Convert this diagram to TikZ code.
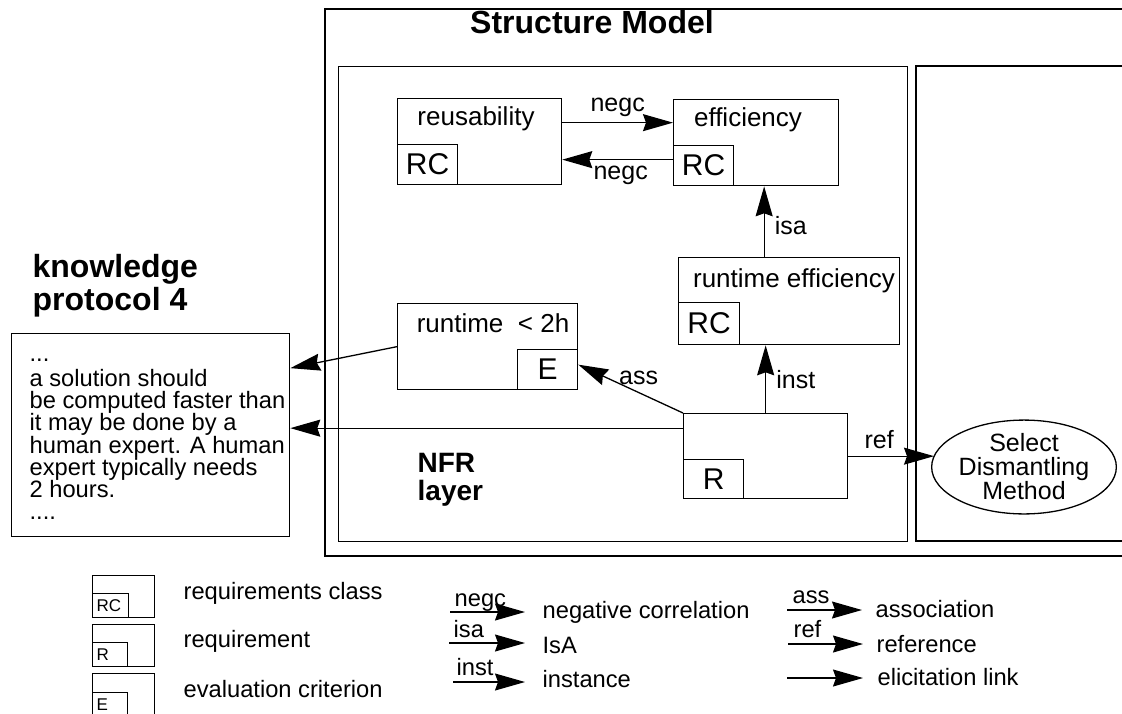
\documentclass[tikz,border=0pt]{standalone}
\usepackage{fontspec}
\setmainfont{Liberation Sans}
\usepackage{tikz}
\usetikzlibrary{calc}
\usetikzlibrary{arrows.meta}
\usetikzlibrary{shapes.geometric}
\newcommand{\fsz}[2]{\fontsize{#1}{#2}\selectfont}

\begin{document}
\begin{tikzpicture}[x=1pt,y=-1pt,line width=1.3pt,
  box/.style={draw,inner sep=0pt,anchor=north west},
  subbox/.style={draw,inner sep=0pt,font=\fsz{30}{30}},
  lgsub/.style={draw,inner sep=0pt,inner xsep=4pt,anchor=south west,align=left,font=\fsz{17}{17}},
  lbl/.style={inner sep=0pt,font=\fsz{26}{26}},
  lgtxt/.style={inner sep=0pt,anchor=base west,font=\fsz{23.7}{23.7}},
  elabel/.style={inner sep=3pt,font=\fsz{25}{25}},
  arr/.style={-{Stealth[length=30pt,width=17pt,inset=3pt]}}]

  \useasboundingbox (0,0) rectangle (1122,713); %画像の範囲

  % Structure Model
  \draw (1122,9) -- (325,9) -- (325,556) -- (1122,556); %外枠
  \node[font=\bfseries\fsz{32}{32},anchor=base,inner sep=0pt] (smTitle) at (592,33) {Structure Model}; %見出し
  \node[box,minimum width=569,minimum height=475] (nfr) at (338,66) {}; %NFR層
  \draw (1122,66) -- (916,66) -- (916,541) -- (1122,541); %右の層
  \node[anchor=north west,inner sep=0pt,align=left,font=\bfseries\fsz{28}{27.5}] (nfrT) at (417,453) {NFR\\layer}; %層の名前

  % reusability
  \node[box,minimum width=164,minimum height=86] (reus) at (397,98) {}; %要求クラス
  \node[subbox,anchor=south west,minimum width=60,minimum height=40] (reusRC) at (reus.south west) {RC};
  \node[lbl] (reusT) at (476,119) {reusability};

  % efficiency
  \node[box,minimum width=165,minimum height=86] (eff) at (673,99) {}; %要求クラス
  \node[subbox,anchor=south west,minimum width=60,minimum height=40] (effRC) at (eff.south west) {RC};
  \node[lbl] (effT) at (748,120) {efficiency};

  % runtime efficiency
  \node[box,minimum width=221,minimum height=87] (rteff) at (678,257) {}; %要求クラス
  \node[subbox,anchor=south west,minimum width=61,minimum height=42] (rteffRC) at (rteff.south west) {RC};
  \node[lbl] (rteffT) at (794,281) {runtime efficiency};

  % runtime < 2h
  \node[box,minimum width=180,minimum height=86] (rt) at (397,303) {}; %評価基準
  \node[subbox,anchor=south east,minimum width=60,minimum height=40] (rtE) at (rt.south east) {E};
  \node[lbl] (rtT) at (493,323) {runtime\ \ < 2h};

  % requirement
  \node[box,minimum width=164,minimum height=85] (req) at (683,413) {}; %要求
  \node[subbox,anchor=south west,minimum width=60,minimum height=39] (reqR) at (req.south west) {R};

  % Select Dismantling Method
  \node[draw,ellipse,minimum width=182,minimum height=86,inner sep=0pt,align=center,font=\fsz{25}{24}] (sdm) at (1024,467) {Select\\Dismantling\\Method}; %タスク

  % knowledge protocol 4
  \node[anchor=north west,inner sep=0pt,align=left,font=\bfseries\fsz{32}{33}] (kbTitle) at (32,254) {knowledge\\protocol 4}; %見出し
  \node[box,minimum width=278,minimum height=203] (kb) at (11,333) {}; %プロトコル
  \node[anchor=north west,inner sep=0pt,align=left,font=\fsz{23.7}{22.3}] (kbT) at (29,345) {\strut...\\a solution should\\be computed faster than\\it may be done by a\\human expert. A human\\expert typically needs\\2 hours.\\....};

  % 矢印
  \draw[arr] ([yshift=19pt]reus.east) -- ([yshift=19pt]reus.east -| eff.west) node[elabel,midway,above,yshift=2pt] {negc}; %上のnegc
  \draw[arr] ([yshift=-17pt]eff.west) -- ([yshift=-17pt]eff.west -| reus.east) node[elabel,midway,below,xshift=3pt,yshift=-3pt] {negc}; %下のnegc
  \draw[arr] ([xshift=-25pt]rteff.north) -- ([xshift=-25pt]rteff.north |- eff.south) node[elabel,midway,right=7pt,yshift=-4pt] {isa}; %isa
  \draw[arr] (req.north) -- (req.north |- rteff.south) node[elabel,midway,right=7pt] {inst}; %inst
  \draw[arr] (req.north west) -- ([yshift=5pt]rtE.east) node[elabel,midway,above,xshift=8pt] {ass}; %ass
  \draw[arr] (req.east) -- ([xshift=3pt]req.east -| sdm.west) node[elabel,pos=0.36,above,yshift=4pt] {ref}; %ref
  \draw[arr] ([yshift=28pt]req.west) -- ([yshift=28pt]req.west -| kb.east); %抽出リンク
  \draw[arr] (rt.west) -- ([yshift=67pt]kb.east); %抽出リンク

  % 凡例(左)
  \node[box,minimum width=62,minimum height=42] (lgRC) at (92,575) {};
  \node[lgsub,text width=28pt,minimum height=24] (lgRCs) at (lgRC.south west) {RC};
  \node[lgtxt] (lgRCt) at (183,599) {requirements class};
  \node[box,minimum width=62,minimum height=42] (lgR) at (92,624) {};
  \node[lgsub,text width=27pt,minimum height=24] (lgRs) at (lgR.south west) {R};
  \node[lgtxt] (lgRt) at (183,647) {requirement};
  \node[box,minimum width=62,minimum height=42] (lgE) at (92,673) {};
  \node[lgsub,text width=27pt,minimum height=23] (lgEs) at (lgE.south west) {E};
  \node[lgtxt] (lgEt) at (183,697) {evaluation criterion};

  % 凡例(中)
  \coordinate (lgN1) at (450,612); \coordinate (lgN2) at (525,612); %negc
  \coordinate (lgI1) at (449,643); \coordinate (lgI2) at (525,643); %isa
  \coordinate (lgT1) at (453,682); \coordinate (lgT2) at (525,682); %inst
  \draw[arr] (lgN1) -- (lgN2) node[lgtxt,pos=0,xshift=4pt,yshift=6pt] {negc};
  \draw[arr] (lgI1) -- (lgI2) node[lgtxt,pos=0,xshift=4pt,yshift=6pt] {isa};
  \draw[arr] (lgT1) -- (lgT2) node[lgtxt,pos=0,xshift=3pt,yshift=7pt] {inst};
  \node[lgtxt] (lgNt) at (542,618) {negative correlation};
  \node[lgtxt] (lgIt) at (542,653) {IsA};
  \node[lgtxt] (lgTt) at (542,687) {instance};

  % 凡例(右)
  \coordinate (lgA1) at (787,610); \coordinate (lgA2) at (862,610); %ass
  \coordinate (lgF1) at (788,644); \coordinate (lgF2) at (863,644); %ref
  \coordinate (lgL1) at (787,678); \coordinate (lgL2) at (863,678); %抽出リンク
  \draw[arr] (lgA1) -- (lgA2) node[lgtxt,pos=0,xshift=5pt,yshift=7pt] {ass};
  \draw[arr] (lgF1) -- (lgF2) node[lgtxt,pos=0,xshift=5pt,yshift=7pt] {ref};
  \draw[arr] (lgL1) -- (lgL2);
  \node[lgtxt] (lgAt) at (875,617) {association};
  \node[lgtxt] (lgFt) at (876,652) {reference};
  \node[lgtxt] (lgLt) at (877,685) {elicitation link};

\end{tikzpicture}
\end{document}
